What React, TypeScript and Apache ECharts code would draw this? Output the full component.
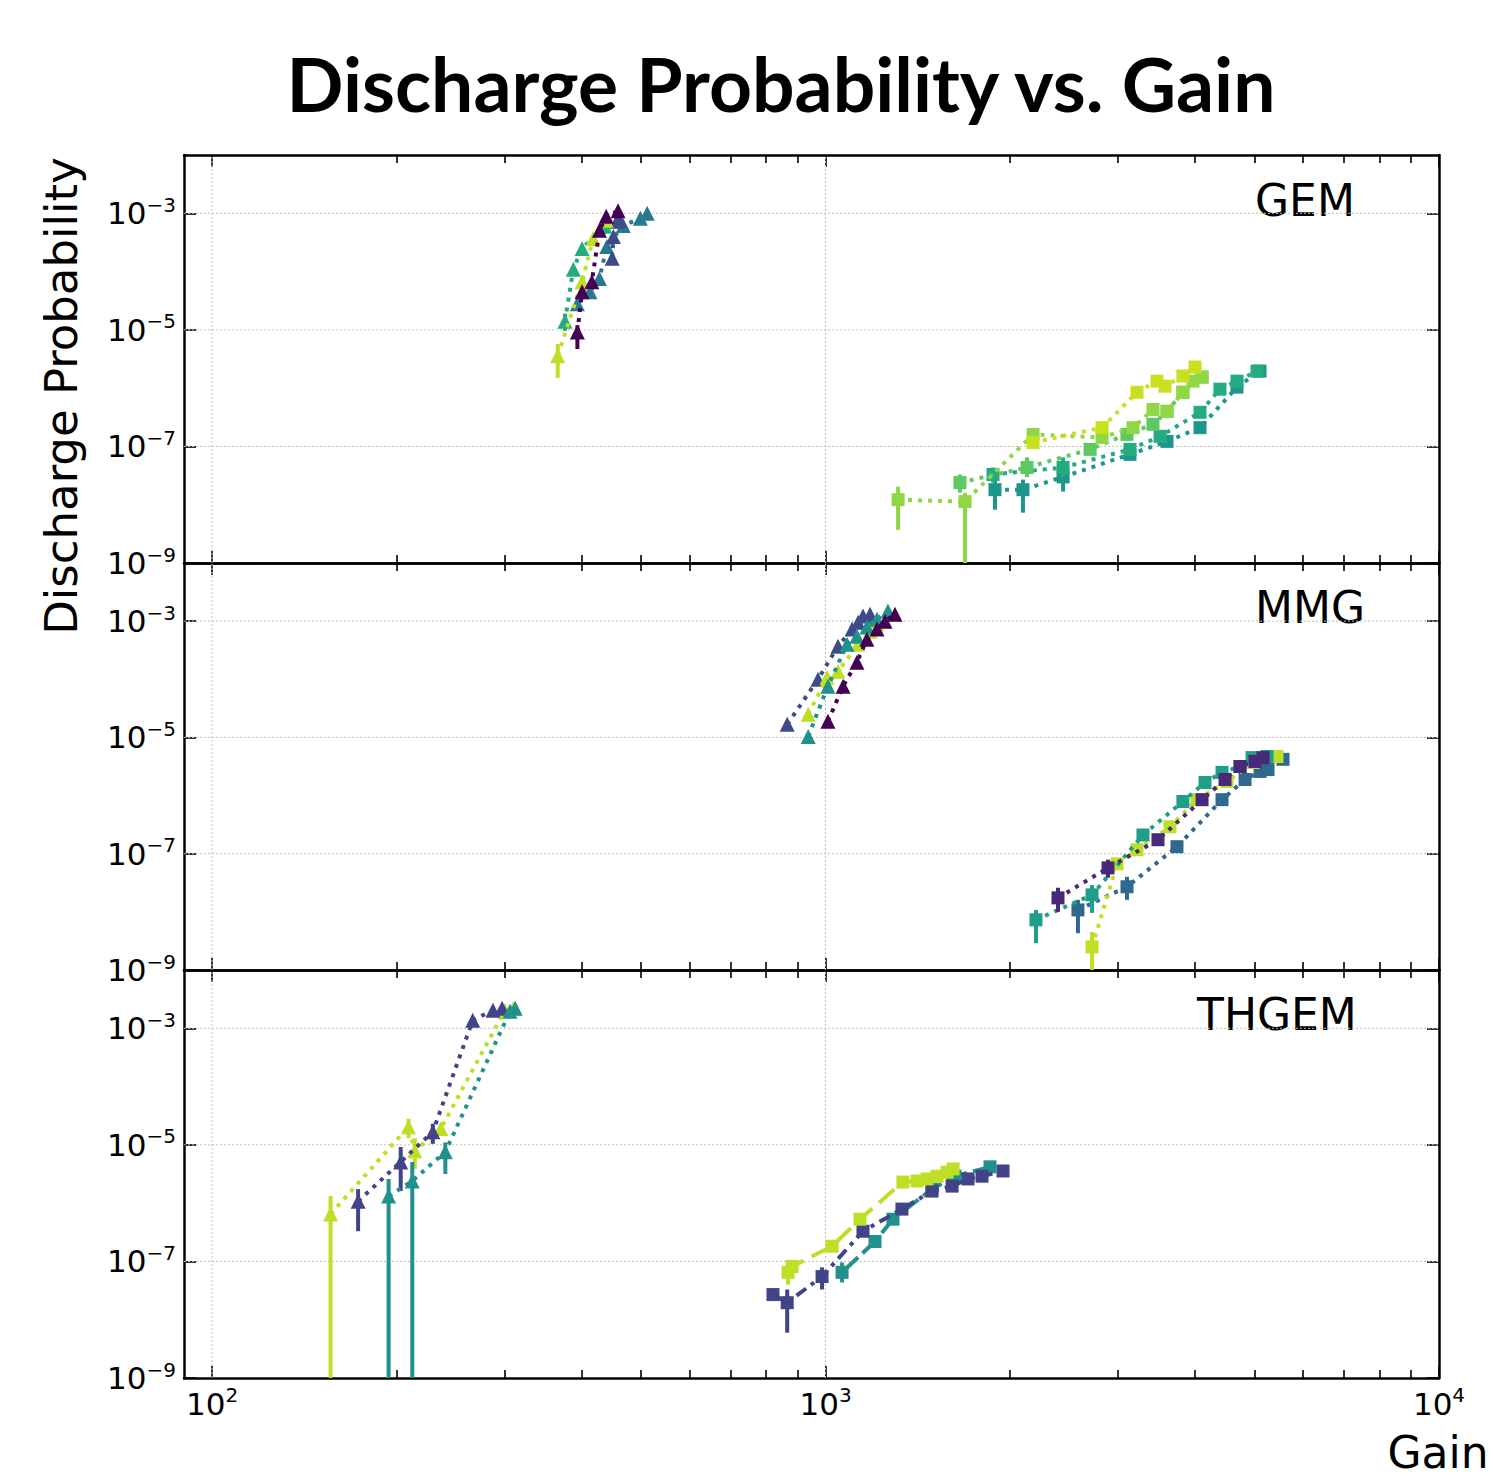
import React, { useEffect, useRef } from "react";
import * as echarts from "echarts";

// ---------- axes ----------
const X_MIN = 90;
const X_MAX = 10000;
const Y_MIN = 1e-9;
const Y_MAX = 1e-2;
const xMajorTicks = [100, 1000, 10000];
const xMinorTicks = [200, 300, 400, 500, 600, 700, 800, 900, 2000, 3000, 4000, 5000, 6000, 7000, 8000, 9000];
const yTicks = [1e-9, 1e-7, 1e-5, 1e-3];
const yGridValues = [1e-7, 1e-5, 1e-3];
const xGridValues = [100, 1000];
const panelNames = ["GEM", "MMG", "THGEM"];

// ---------- data: [gain, discharge probability, errLow?, errHigh?] ----------
// GEM – triangles
const gemTriYellow = [[366, 3.6e-6, 1.5e-6, 5.7e-6], [401, 6.7e-5], [418, 3.7e-4], [439, 7.6e-4]];
const gemTriGreen = [[376, 1.4e-5, 9.6e-6, 1.9e-5], [388, 1.1e-4], [401, 2.5e-4], [437, 6.0e-4]];
const gemTriTeal = [[394, 2.8e-5], [413, 4.5e-5], [428, 7.6e-5], [440, 2.7e-4], [468, 6.2e-4], [499, 8.2e-4], [512, 1.0e-3]];
const gemTriBlue = [[449, 1.7e-4], [451, 4.0e-4], [457, 7.3e-4], [462, 7.6e-4]];
const gemTriPurple = [[394, 9.2e-6, 4.7e-6, 1.2e-5], [401, 4.5e-5], [416, 6.7e-5], [428, 5.1e-4], [439, 8.9e-4], [459, 1.1e-3]];
// GEM – squares
const gemSqLight = [[1313, 1.22e-8, 3.7e-9, 2.04e-8], [1688, 1.13e-8, 1e-9, 1.6e-8], [2179, 1.6e-7], [2823, 1.43e-7], [3171, 2.1e-7], [3418, 4.3e-7], [3603, 4.0e-7], [3824, 8.5e-7], [3972, 1.32e-6], [4109, 1.55e-6]];
const gemSqYellow = [[2179, 1.17e-7], [2823, 2.1e-7], [3219, 8.5e-7], [3470, 1.32e-6], [3576, 1.08e-6], [3824, 1.61e-6], [4002, 2.3e-6]];
const gemSqGreen = [[1656, 2.4e-8, 1.61e-8, 3.3e-8], [2130, 4.35e-8, 3.0e-8, 6.5e-8], [2699, 8.9e-8], [3100, 1.61e-7], [3418, 2.4e-7], [3603, 4.0e-7], [3824, 8.5e-7], [4109, 1.55e-6]];
const gemSqTealGreen = [[1875, 3.3e-8, 2.4e-8, 4.35e-8], [2439, 4.35e-8, 3.0e-8, 6.5e-8], [3135, 8.9e-8], [3510, 1.49e-7], [4078, 3.85e-7], [4395, 9.6e-7], [4685, 1.32e-6], [5051, 1.96e-6]];
const gemSqTeal = [[1889, 1.81e-8, 8.2e-9, 3.0e-8], [2098, 1.81e-8, 7.3e-9, 2.7e-8], [2439, 3.0e-8, 1.68e-8, 4.9e-8], [3135, 7.3e-8], [3603, 1.22e-7], [4078, 2.1e-7], [4685, 1.04e-6], [5108, 1.96e-6]];
// MMG – triangles
const mmgTriBlue = [[866, 1.68e-5], [972, 1.0e-4], [1048, 3.7e-4], [1105, 7.3e-4], [1130, 9.6e-4], [1151, 1.22e-3], [1182, 1.32e-3]];
const mmgTriYellow = [[937, 2.5e-5], [1006, 1.08e-4], [1048, 1.37e-4], [1130, 4.0e-4], [1182, 6.7e-4], [1213, 8.9e-4]];
const mmgTriTeal = [[937, 1.04e-5], [1009, 7.6e-5], [1084, 4.0e-4], [1125, 5.5e-4], [1168, 7.9e-4], [1213, 1.08e-3], [1264, 1.49e-3]];
const mmgTriPurple = [[1009, 1.89e-5], [1068, 7.6e-5], [1125, 1.96e-4], [1168, 4.9e-4], [1213, 7.3e-4], [1250, 1.0e-3], [1298, 1.32e-3]];
// MMG – squares
const mmgSqTeal = [[2203, 7.3e-9, 2.9e-9, 1.08e-8], [2719, 1.96e-8, 9.6e-9, 2.9e-8], [3292, 2.1e-7], [3824, 7.9e-7], [4155, 1.68e-6], [4429, 2.5e-6], [4739, 3.16e-6], [4957, 4.5e-6], [5244, 4.7e-6]];
const mmgSqPurple = [[2393, 1.74e-8, 1.0e-8, 2.6e-8], [2887, 5.7e-8, 3.86e-8, 7.9e-8], [3483, 1.74e-7], [4109, 8.5e-7], [4479, 1.89e-6], [4739, 3.16e-6], [5013, 3.86e-6], [5166, 4.5e-6]];
const mmgSqBlue = [[2579, 1.08e-8, 4.3e-9, 1.61e-8], [3100, 2.7e-8, 1.61e-8, 4.0e-8], [3740, 1.32e-7], [4429, 8.5e-7], [4829, 1.89e-6], [5108, 2.6e-6], [5264, 2.8e-6], [5568, 4.2e-6]];
const mmgSqYellow = [[2719, 2.5e-9, 1e-9, 4.5e-9], [2987, 6.7e-8], [3219, 1.17e-7], [3643, 2.9e-7], [4032, 8.5e-7], [4513, 1.74e-6], [4976, 3.7e-6], [5444, 4.7e-6]];
// THGEM – triangles
const thTriYellow = [[156, 6.5e-7, 1e-9, 1.32e-6], [209, 2.04e-5, 1.3e-5, 2.8e-5], [214, 7.9e-6, 3.9e-6, 1.3e-5], [236, 1.9e-5], [300, 2.0e-3], [310, 2.2e-3]];
const thTriBlue = [[173, 1.08e-6, 3.3e-7, 1.74e-6], [203, 5.1e-6, 1.61e-6, 9.2e-6], [229, 1.68e-5, 1.04e-5, 2.3e-5], [266, 1.37e-3], [287, 2.04e-3], [297, 2.2e-3]];
const thTriTeal = [[194, 1.32e-6, 1e-9, 2.6e-6], [212, 2.4e-6, 1e-9, 5.1e-6], [240, 7.6e-6, 3.16e-6, 1.1e-5], [306, 1.96e-3], [312, 2.2e-3]];
// THGEM – squares
const thSqYellow = [[869, 6.5e-8, 4.0e-8, 9.6e-8], [882, 8.2e-8], [1025, 1.82e-7], [1138, 5.3e-7], [1337, 2.3e-6], [1410, 2.4e-6], [1464, 2.6e-6], [1520, 2.9e-6], [1578, 3.4e-6], [1614, 3.86e-6]];
const thSqBlue = [[821, 2.7e-8, 2.2e-8, 3.3e-8], [866, 1.96e-8, 6.0e-9, 3.3e-8], [987, 5.5e-8, 3.3e-8, 7.9e-8], [1151, 3.3e-7], [1332, 7.9e-7], [1491, 1.61e-6], [1608, 1.96e-6], [1707, 2.6e-6], [1799, 2.9e-6], [1947, 3.56e-6]];
const thSqTeal = [[1064, 6.5e-8, 4.35e-8, 9.6e-8], [1204, 2.2e-7], [1288, 5.3e-7], [1491, 1.74e-6], [1626, 2.9e-6], [1854, 4.2e-6]];

// ---------- styles ----------
const DOT = [4, 6];
const panels = [
  [
    { data: gemTriTeal, color: "#2a788e", symbol: "triangle", dash: DOT },
    { data: gemTriBlue, color: "#3e4a89", symbol: "triangle", dash: DOT },
    { data: gemTriGreen, color: "#25ab82", symbol: "triangle", dash: DOT },
    { data: gemTriYellow, color: "#bddf26", symbol: "triangle", dash: DOT },
    { data: gemTriPurple, color: "#440154", symbol: "triangle", dash: DOT },
    { data: gemSqTeal, color: "#1f968b", symbol: "rect", dash: DOT },
    { data: gemSqTealGreen, color: "#25ab82", symbol: "rect", dash: DOT },
    { data: gemSqGreen, color: "#5ec962", symbol: "rect", dash: DOT },
    { data: gemSqLight, color: "#8fd744", symbol: "rect", dash: DOT },
    { data: gemSqYellow, color: "#c8e020", symbol: "rect", dash: DOT },
  ],
  [
    { data: mmgTriBlue, color: "#3e4a89", symbol: "triangle", dash: DOT },
    { data: mmgTriYellow, color: "#bddf26", symbol: "triangle", dash: DOT },
    { data: mmgTriTeal, color: "#21918c", symbol: "triangle", dash: DOT },
    { data: mmgTriPurple, color: "#440154", symbol: "triangle", dash: DOT },
    { data: mmgSqBlue, color: "#31688e", symbol: "rect", dash: DOT },
    { data: mmgSqYellow, color: "#bddf26", symbol: "rect", dash: DOT },
    { data: mmgSqTeal, color: "#1f9e89", symbol: "rect", dash: DOT },
    { data: mmgSqPurple, color: "#482878", symbol: "rect", dash: DOT },
  ],
  [
    { data: thTriYellow, color: "#bddf26", symbol: "triangle", dash: DOT },
    { data: thTriBlue, color: "#414487", symbol: "triangle", dash: DOT },
    { data: thTriTeal, color: "#21918c", symbol: "triangle", dash: DOT },
    { data: thSqTeal, color: "#21918c", symbol: "rect", dash: [22, 6] },
    { data: thSqBlue, color: "#414487", symbol: "rect", dash: [12, 6, 4, 6] },
    { data: thSqYellow, color: "#bddf26", symbol: "rect", dash: [20, 9] },
  ],
];

const GRID_TOPS = [155, 563, 970];
const GRID_HEIGHTS = [408, 407, 408];
const GRID_LEFT = 184;
const GRID_WIDTH = 1255;
const LABEL_FONT = "DejaVu Sans";

function powLabel(v: number) {
  const e = Math.round(Math.log10(v));
  const s = e < 0 ? "\u2212" + Math.abs(e) : String(e);
  return "{b|10}{s|" + s + "}";
}
const richLabel = {
  b: { fontSize: 31, lineHeight: 37, fontFamily: LABEL_FONT, color: "#000" },
  s: { fontSize: 20, lineHeight: 20, fontFamily: LABEL_FONT, color: "#000", verticalAlign: "top" },
};

function buildOption() {
  const grids: any[] = [];
  const xAxes: any[] = [];
  const yAxes: any[] = [];
  const series: any[] = [];
  const graphics: any[] = [];

  for (let i = 0; i < 3; i++) {
    grids.push({ left: GRID_LEFT, width: GRID_WIDTH, top: GRID_TOPS[i], height: GRID_HEIGHTS[i], containLabel: false });
    const isLast = i === 2;
    const baseX = (position: string, ticks: number[], len: number, showLine: boolean, showLabel: boolean) => ({
      type: "log",
      gridIndex: i,
      position,
      min: X_MIN,
      max: X_MAX,
      logBase: 10,
      axisLine: { show: showLine, onZero: false, lineStyle: { color: "#000", width: 2.5 } },
      axisTick: { show: true, inside: true, length: len, customValues: ticks, lineStyle: { color: "#000", width: 1.6 } },
      axisLabel: showLabel
        ? { show: true, customValues: xMajorTicks, margin: 7, formatter: powLabel, rich: richLabel, showMinLabel: true, showMaxLabel: true }
        : { show: false },
      splitLine: { show: false },
      minorTick: { show: false },
    });
    xAxes.push(baseX("bottom", xMajorTicks, 12, true, isLast));
    xAxes.push(baseX("bottom", xMinorTicks, 8, false, false));
    xAxes.push(baseX("top", xMajorTicks, 12, true, false));
    xAxes.push(baseX("top", xMinorTicks, 8, false, false));
    const baseY = (position: string, showLabel: boolean) => ({
      type: "log",
      gridIndex: i,
      position,
      min: Y_MIN,
      max: Y_MAX,
      logBase: 10,
      axisLine: { show: true, onZero: false, lineStyle: { color: "#000", width: 2.5 } },
      axisTick: { show: true, inside: true, length: 12, customValues: yTicks, lineStyle: { color: "#000", width: 1.6 } },
      axisLabel: showLabel
        ? { show: true, customValues: yTicks, margin: 8, formatter: powLabel, rich: richLabel, showMinLabel: true, showMaxLabel: true }
        : { show: false },
      splitLine: { show: false },
    });
    yAxes.push(baseY("left", true));
    yAxes.push(baseY("right", false));

    const xIdx = i * 4;
    const yIdx = i * 2;

    // dotted grid lines
    const gridData: number[][] = [];
    yGridValues.forEach((v) => gridData.push([X_MIN, v, 0]));
    xGridValues.forEach((v) => gridData.push([v, Y_MIN, 1]));
    series.push({
      type: "custom",
      xAxisIndex: xIdx,
      yAxisIndex: yIdx,
      silent: true,
      z: 1,
      data: gridData,
      encode: { x: 0, y: 1 },
      renderItem: (params: any, api: any) => {
        const kind = api.value(2);
        let p1, p2;
        if (kind === 0) {
          p1 = api.coord([X_MIN, api.value(1)]);
          p2 = api.coord([X_MAX, api.value(1)]);
        } else {
          p1 = api.coord([api.value(0), Y_MIN]);
          p2 = api.coord([api.value(0), Y_MAX]);
        }
        return {
          type: "line",
          shape: { x1: p1[0], y1: p1[1], x2: p2[0], y2: p2[1] },
          style: { stroke: "#bdbdbd", lineWidth: 1, lineDash: [2, 2] },
        };
      },
    });

    panels[i].forEach((spec: any, k: number) => {
      const errs = spec.data.filter((d: number[]) => d.length >= 4).map((d: number[]) => [d[0], d[2], d[3]]);
      if (errs.length) {
        series.push({
          type: "custom",
          xAxisIndex: xIdx,
          yAxisIndex: yIdx,
          silent: true,
          z: 3 + k * 0.01,
          data: errs,
          encode: { x: 0, y: [1, 2] },
          renderItem: (params: any, api: any) => {
            const p1 = api.coord([api.value(0), api.value(1)]);
            const p2 = api.coord([api.value(0), api.value(2)]);
            return {
              type: "line",
              shape: { x1: p1[0], y1: p1[1], x2: p2[0], y2: p2[1] },
              style: { stroke: spec.color, lineWidth: 4 },
            };
          },
        });
      }
      series.push({
        type: "line",
        xAxisIndex: xIdx,
        yAxisIndex: yIdx,
        silent: true,
        z: 3 + k * 0.01,
        data: spec.data.map((d: number[]) => [d[0], d[1]]),
        symbol: spec.symbol,
        symbolSize: spec.symbol === "triangle" ? 15 : 13,
        showSymbol: true,
        showAllSymbol: true,
        itemStyle: { color: spec.color, borderWidth: 0 },
        lineStyle: { color: spec.color, width: 4, type: spec.dash, cap: "butt" },
        emphasis: { disabled: true },
      });
    });
  }

  graphics.push({
    type: "text",
    x: 781,
    y: 83,
    style: { text: "Discharge Probability vs. Gain", font: "bold 75px Lato", fill: "#000", textAlign: "center", textVerticalAlign: "middle" },
  });
  graphics.push({
    type: "text",
    x: 61,
    y: 396,
    rotation: Math.PI / 2,
    style: { text: "Discharge Probability", font: "45px 'DejaVu Sans'", fill: "#000", textAlign: "center", textVerticalAlign: "middle" },
  });
  graphics.push({
    type: "text",
    x: 1438,
    y: 1452,
    style: { text: "Gain", font: "44px 'DejaVu Sans'", fill: "#000", textAlign: "center", textVerticalAlign: "middle" },
  });
  const nameX = [1255, 1255, 1197];
  const nameY = [200, 607, 1014];
  panelNames.forEach((n, i) => {
    graphics.push({
      type: "text",
      x: nameX[i],
      y: nameY[i],
      style: { text: n, font: "44px 'DejaVu Sans'", fill: "#000", textAlign: "left", textVerticalAlign: "middle" },
    });
  });

  return {
    animation: false,
    backgroundColor: "#fff",
    grid: grids,
    xAxis: xAxes,
    yAxis: yAxes,
    series,
    graphic: graphics,
  };
}

export default function App() {
  const ref = useRef<HTMLDivElement>(null);
  useEffect(() => {
    document.body.style.margin = "0";
    if (!ref.current) return;
    const chart = echarts.init(ref.current, undefined, { renderer: "svg" });
    chart.setOption(buildOption() as any);
    return () => chart.dispose();
  }, []);
  return <div ref={ref} style={{ width: 1493, height: 1476 }} />;
}
